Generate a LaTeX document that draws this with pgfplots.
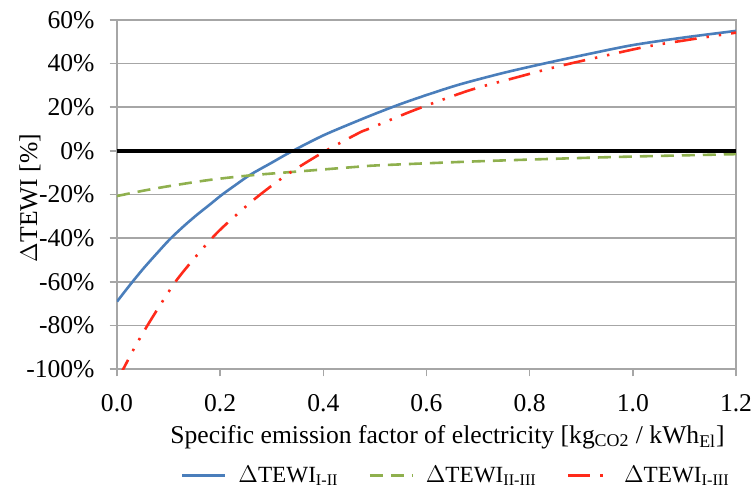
\documentclass[border=0pt]{standalone}
\usepackage{fontspec}
\setmainfont{Liberation Serif}
\usepackage{pgfplots}
\pgfplotsset{compat=1.18}
\definecolor{tblue}{HTML}{4A7EBB}
\definecolor{tgreen}{HTML}{8FB04E}
\definecolor{tred}{HTML}{FF2A1A}
\definecolor{tgrid}{HTML}{A6A6A6}
\newcommand{\tfont}{\fontsize{12.8}{14}\selectfont}
\newcommand{\lfont}{\fontsize{11.6}{13}\selectfont}

\begin{document}
\begin{tikzpicture}
% fixed page: axis box lower-left sits at (0,0)
\useasboundingbox (-58.5pt,-62pt) rectangle (317pt,184.5pt);
\begin{axis}[
  scale only axis, width=309.5pt, height=174.5pt,
  xmin=0, xmax=1.2, ymin=-100, ymax=60,
  xtick={0,0.2,...,1.2}, ytick={-100,-80,...,60},
  /pgf/number format/assume math mode=true,
  xticklabel={\pgfmathprintnumber[fixed,fixed zerofill,precision=1]{\tick}},
  yticklabel={\pgfmathprintnumber[fixed,precision=0]{\tick}\%},
  tick pos=left, tick align=outside, major tick length=3.7pt,
  axis line style={tgrid, line width=0.8pt},
  tick style={tgrid, line width=0.8pt},
  ymajorgrids, grid style={tgrid, line width=0.8pt},
  tick label style={font=\tfont},
  xticklabel style={yshift=-5.5pt},
  yticklabel style={xshift=-4pt},
  label style={font=\tfont},
  xlabel={Specific emission factor of electricity [kg\textsubscript{CO2} / kWh\textsubscript{El}]},
  ylabel={$\Delta$TEWI [\%]},
  xlabel style={at={(axis description cs:0.534,0)}, anchor=center, yshift=-34pt},
  ylabel style={at={(axis description cs:-0.1405,0.49)}, anchor=center},
  legend style={at={(0.55,-0.305)}, anchor=center, draw=none, legend columns=3,
    font=\lfont, inner sep=0pt,
    /tikz/every even column/.append style={column sep=13pt},
    /tikz/every odd column/.append style={column sep=4pt}},
  legend image code/.code={\draw[#1] (0cm,0cm) -- (0.75cm,0cm);},
  clip=true,
]
\addplot[tblue, line width=1.3pt, smooth] coordinates {
  (0,-69.1) (0.025,-61.5) (0.051,-54) (0.075,-47.6) (0.1025,-40.5)
  (0.13,-34.4) (0.1545,-29.4) (0.18,-24.6) (0.203,-20.2) (0.23,-15.6)
  (0.258,-11) (0.3,-5.4) (0.336,-0.6) (0.4,7.1) (0.471,14.2) (0.51,17.9)
  (0.55,21.5) (0.6,25.6) (0.665,30.5) (0.75,35.8) (0.833,40.3) (0.92,44.7)
  (1.0,48.5) (1.1,52) (1.2,55)};
\addlegendentry{$\Delta$TEWI\textsubscript{I-II}}
\addplot[tgreen, line width=1.3pt, smooth, dash pattern=on 6.5pt off 4pt] coordinates {
  (0,-20.7) (0.05,-18.3) (0.1,-16.2) (0.18,-13.3) (0.26,-11.2) (0.348,-9.5)
  (0.471,-7.2) (0.51,-6.6) (0.685,-4.9) (0.879,-3.4) (1.0,-2.6) (1.2,-1.5)};
\addlegendentry{$\Delta$TEWI\textsubscript{II-III}}
\addplot[tred, line width=1.3pt, smooth,
  dash pattern=on 11pt off 5pt on 1.2pt off 5pt on 1.2pt off 5pt] coordinates {
  (0,-104.5) (0.011,-100.5) (0.034,-90.2) (0.0576,-80.6) (0.086,-69.8)
  (0.1158,-59.2) (0.153,-48.4) (0.193,-37.8) (0.233,-29) (0.274,-20.7)
  (0.329,-11) (0.40,-0.6) (0.468,8.1) (0.49,10.3) (0.58,19) (0.685,27.9)
  (0.77,33.4) (0.853,38.6) (0.94,43.3) (1.027,47.8) (1.11,51) (1.2,54.2)};
\addlegendentry{$\Delta$TEWI\textsubscript{I-III}}
\addplot[black, line width=2pt, forget plot] coordinates {(0,0) (1.2,0)};
\end{axis}
\end{tikzpicture}
\end{document}
